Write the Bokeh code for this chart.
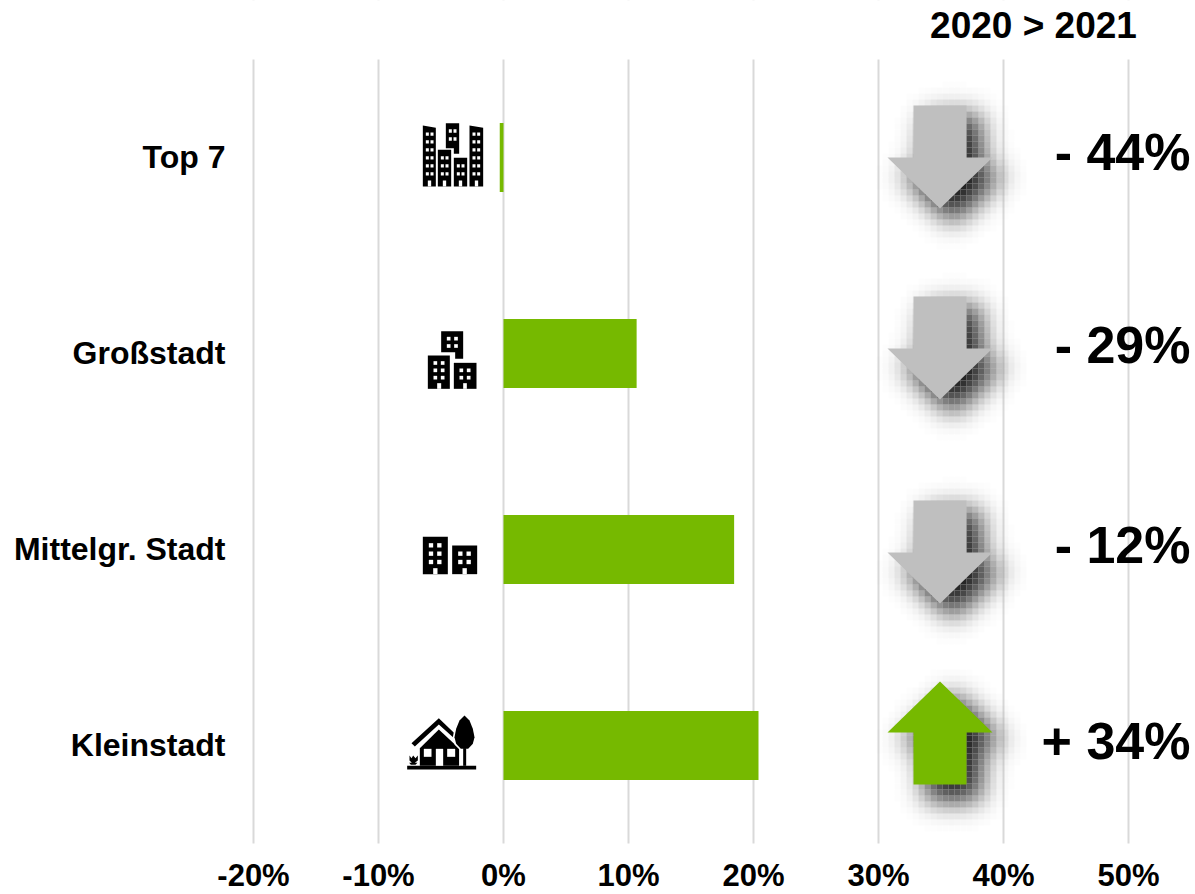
import numpy as np
from bokeh.embed import file_html
from bokeh.resources import INLINE
from bokeh.plotting import figure
from bokeh.models import Range1d, FixedTicker, PrintfTickFormatter
from bokeh.core.properties import value

categories = ["Top 7", "Großstadt", "Mittelgr. Stadt", "Kleinstadt"]
share_2021 = [-0.3, 10.65, 18.45, 20.4]
change_labels = ["- 44%", "- 29%", "- 12%", "+ 34%"]
change_dirs = [-1, -1, -1, 1]
tick_values = [-20, -10, 0, 10, 20, 30, 40, 50]
header = "2020 > 2021"

GREEN = "#76b900"
GREY = "#bfbfbf"
FONT = "Liberation Sans"
W, H = 1195, 894
AXIS_X, T, R, B = 235, 59, 1195, 843
PX_PER_PCT = 12.5
ZERO = 503
ROW_PX = 196
rows_y = [i + 0.5 for i in range(len(categories))]
label_y = [v - 0.005 for v in rows_y]

p = figure(width=W, height=H, output_backend="svg", toolbar_location=None,
           y_range=Range1d((H - T) / ROW_PX, -T / ROW_PX),
           x_range=Range1d(-ZERO / PX_PER_PCT, (R - ZERO) / PX_PER_PCT),
           min_border_left=0, min_border_right=0, min_border_top=0, min_border_bottom=0,
           outline_line_color=None, background_fill_color="white", border_fill_color="white")
p.extra_x_ranges = {"px": Range1d(0, R)}
p.extra_y_ranges = {"px": Range1d(H, 0)}

p.ygrid.visible = False
p.xgrid.grid_line_color = "#d9d9d9"
p.xgrid.grid_line_width = 2
p.xaxis.ticker = FixedTicker(ticks=tick_values)
p.xaxis.formatter = PrintfTickFormatter(format="%d%%")
p.xaxis.fixed_location = len(categories)
p.yaxis.ticker = FixedTicker(ticks=label_y)
p.yaxis.major_label_overrides = dict(zip(label_y, categories))
p.yaxis.fixed_location = (AXIS_X - ZERO) / PX_PER_PCT
for ax, off, size in ((p.xaxis, 8, "31px"), (p.yaxis, 4, "32px")):
    ax.axis_line_color = None
    ax.major_tick_line_color = None
    ax.minor_tick_line_color = None
    ax.major_label_text_font = FONT
    ax.major_label_text_font_style = "bold"
    ax.major_label_text_font_size = size
    ax.major_label_text_color = "black"
    ax.major_label_standoff = off

PX = dict(x_range_name="px", y_range_name="px")

# gridlines only span the plotting band
p.quad(left=[0, 0], right=[R, R], top=[0, B], bottom=[T, H], fill_color="white", line_color=None, **PX)

p.hbar(y=rows_y, left=0, right=share_2021, height=0.352, fill_color=GREEN, line_color=None)


def poly(points, color="black"):
    xs, ys = zip(*points)
    p.patch(list(xs), list(ys), fill_color=color, line_color=None, **PX)


def box(x0, y0, x1, y1, color="white"):
    p.quad(left=[x0], right=[x1], top=[y0], bottom=[y1], fill_color=color, line_color=None, **PX)


def building(ox, oy, outline, cols, rows, w, h, door=None):
    poly([(ox + a / 3, oy + b / 3) for a, b in outline])
    for c in cols:
        for r in rows:
            box(ox + c / 3, oy + r / 3, ox + (c + w) / 3, oy + (r + h) / 3)
    if door:
        box(ox + door[0] / 3, oy + door[1] / 3, ox + door[2] / 3, oy + door[3] / 3)


def rect(a, b, c, d):
    return [(a, b), (c, b), (c, d), (a, d)]


# icons
o = (400, 100)
rows = [96, 119, 143, 167, 191, 215]
building(*o, [(67, 75), (106, 82), (106, 258), (67, 258)], [76, 90], rows, 9, 10, (82, 240, 92, 258))
building(*o, [(207, 75), (248, 82), (248, 258), (207, 258)], [216, 230], rows, 9, 10, (223, 240, 233, 258))
building(*o, [(136, 68), (176, 68), (176, 160), (160, 160), (160, 143), (136, 143)], [145, 159], [86, 110], 9, 11)
building(*o, rect(112, 148, 152, 258), [121, 135], [167, 191, 215], 9, 10, (127, 240, 137, 258))
building(*o, rect(160, 172, 200, 258), [169, 183], [191, 215], 9, 10, (175, 240, 185, 258))

o = (400, 320)
building(*o, [(122, 32), (188, 32), (188, 115), (164, 115), (164, 95), (122, 95)], [139, 161], [49, 71], 11, 11)
building(*o, rect(82, 105, 148, 205), [99, 121], [122, 144, 166], 11, 11, (110, 188, 122, 205))
building(*o, rect(160, 127, 228, 205), [177, 199], [144, 166], 11, 11, (188, 188, 199, 205))

o = (400, 520)
building(*o, rect(67, 49, 142, 161), [85, 110], [68, 93, 118], 13, 13, (98, 143, 111, 161))
building(*o, rect(155, 75, 230, 161), [173, 198], [93, 118], 13, 13, (186, 143, 199, 161))

ox, oy = 395, 705
sc = lambda pts: [(ox + a / 3, oy + b / 3) for a, b in pts]
poly(sc([(35, 181), (242, 181), (242, 192), (35, 192)]))
poly(sc([(48, 113), (130, 38), (180, 86), (180, 102), (130, 57), (58, 123)]))
poly(sc([(73, 128), (130, 72), (192, 130), (192, 181), (73, 181)]))
poly(sc([(85, 130), (108, 130), (108, 154), (85, 154)]), "white")
poly(sc([(155, 130), (179, 130), (179, 154), (155, 154)]), "white")
poly(sc([(121, 130), (143, 130), (143, 181), (121, 181)]), "white")
tree = [(207, 30), (222, 45), (232, 70), (237, 95), (232, 115), (218, 130), (196, 130), (182, 115), (177, 95), (182, 70), (192, 45)]
cx, cy = 207, 85
poly(sc([(cx + (a - cx) * 1.18, cy + (b - cy) * 1.1) for a, b in tree]), "white")
poly(sc([(191, 130), (194, 130), (194, 181), (191, 181)]), "white")
poly(sc(tree))
poly(sc(rect(203, 128, 212, 181)))
poly(sc([(42, 150), (48, 158), (53, 150), (60, 158), (67, 150), (67, 165), (58, 172), (66, 172), (60, 178), (46, 178), (41, 172), (49, 172), (42, 165)]))


# arrows with their blurred, offset shadow
def gauss_blur(a, s):
    k = np.exp(-0.5 * (np.arange(-50, 51) / s) ** 2)
    k /= k.sum()
    a = np.apply_along_axis(lambda v: np.convolve(v, k, "same"), 0, a)
    return np.apply_along_axis(lambda v: np.convolve(v, k, "same"), 1, a)


def arrow(top, direction, color):
    # top: first pixel row of the arrow, 103px tall
    xm = 939.5
    if direction < 0:
        pts = [(913, top), (966, top), (966, top + 52), (992, top + 52), (xm, top + 103), (887, top + 52), (913, top + 52)]
    else:
        pts = [(xm, top), (992, top + 51), (966, top + 51), (966, top + 103), (913, top + 103), (913, top + 51), (887, top + 51)]
    block = 6
    x0, y0 = 858, top - 36
    nx, ny = 198, 192
    mask = np.zeros((ny, nx))
    dx, dy, grow = 13, 13, 1.1
    ycen = top + 51.5
    spts = [(xm + (a - xm) * grow + dx, ycen + (b - ycen) * grow + dy) for a, b in pts]
    for row in range(ny):
        y = y0 + row + 0.5
        xs = []
        for (a, b), (c, d) in zip(spts, spts[1:] + spts[:1]):
            if (b <= y) != (d <= y):
                xs.append(a + (y - b) / (d - b) * (c - a))
        xs.sort()
        for s, e in zip(xs[::2], xs[1::2]):
            i0, i1 = int(round(s - x0)), int(round(e - x0))
            mask[row, max(i0, 0):max(i1, 0)] = 1
    blur = gauss_blur(mask, 14)
    l, r, t, b, al = [], [], [], [], []
    for j in range(0, ny - block + 1, block):
        for i in range(0, nx - block + 1, block):
            v = blur[j:j + block, i:i + block].mean() ** 1.25 * 0.95
            if v > 0.006:
                l.append(x0 + i); r.append(x0 + i + block)
                t.append(y0 + j); b.append(y0 + j + block)
                al.append(float(v))
    p.quad(left=l, right=r, top=t, bottom=b, fill_color="black", fill_alpha=al, line_color=None, **PX)
    poly(pts, color)


arrow(105, change_dirs[0], GREY)
arrow(296, change_dirs[1], GREY)
arrow(500, change_dirs[2], GREY)
arrow(681, change_dirs[3], GREEN)

p.text(x=[1190] * 4, y=[151, 344, 544, 740], text=change_labels,
       text_font=value(FONT), text_font_style="bold", text_font_size="52px",
       text_align="right", text_baseline="middle", text_color="black", **PX)

p.text(x=[1033], y=[25], text=[header],
       text_font=value(FONT), text_font_style="bold", text_font_size="37px",
       text_align="center", text_baseline="middle", text_color="black", **PX)

open("out.html", "w").write(file_html(p, INLINE))
